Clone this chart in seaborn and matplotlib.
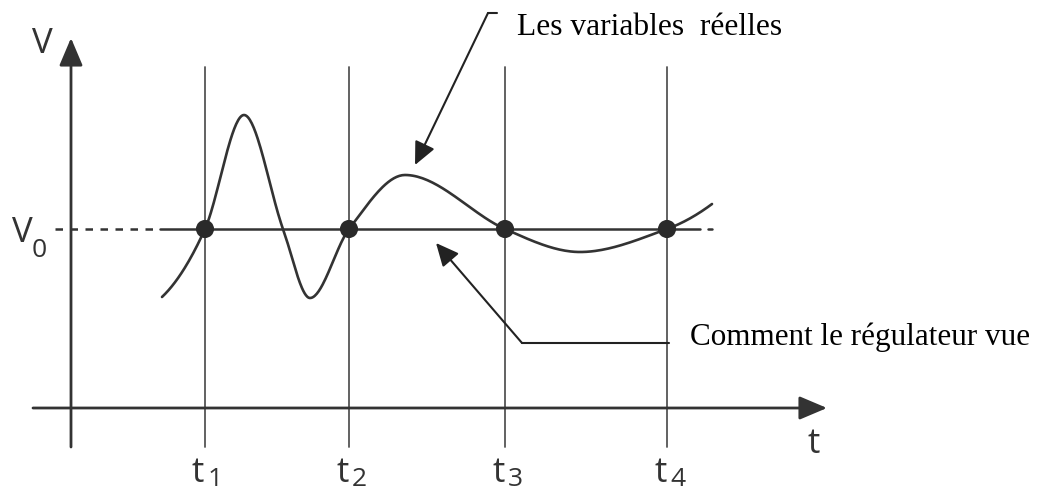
import numpy as np
import pandas as pd
import matplotlib
matplotlib.use("Agg")
import matplotlib.pyplot as plt
import seaborn as sns

# Data (units: t and V measured from the axis origin)
t_marks = [13.4, 27.8, 43.4, 59.6]
t_names = ["1", "2", "3", "4"]
v0 = 17.9
curve_t = [9.1, 13.4, 17.3, 21.2, 23.9, 27.8, 33.4, 43.4, 50.9, 59.6, 64.1]
curve_v = [11.1, 17.9, 29.3, 17.9, 11.0, 17.9, 23.3, 17.9, 15.6, 17.9, 20.4]

label_real = "Les variables  réelles"
label_reg = "Comment le régulateur vue"

# Smooth curve through the read points (Hermite, flat at extrema)
ct = np.array(curve_t)
cv = np.array(curve_v)
n = len(ct)
d = np.zeros(n)
for i in range(1, n - 1):
    if (cv[i] - cv[i - 1]) * (cv[i + 1] - cv[i]) < 0:
        d[i] = 0.0
    else:
        d[i] = (cv[i + 1] - cv[i - 1]) / (ct[i + 1] - ct[i - 1])
# parabolic end conditions
d[0] = 2 * (cv[1] - cv[0]) / (ct[1] - ct[0]) - d[1]
d[-1] = 2 * (cv[-1] - cv[-2]) / (ct[-1] - ct[-2]) - d[-2]
xs, ys = [], []
for i in range(n - 1):
    h = ct[i + 1] - ct[i]
    s = np.linspace(0, 1, 40, endpoint=(i == n - 2))
    h00 = 2 * s**3 - 3 * s**2 + 1
    h10 = s**3 - 2 * s**2 + s
    h01 = -2 * s**3 + 3 * s**2
    h11 = s**3 - s**2
    xs.append(ct[i] + s * h)
    ys.append(h00 * cv[i] + h10 * h * d[i] + h01 * cv[i + 1] + h11 * h * d[i + 1])
df = pd.DataFrame({"t": np.concatenate(xs), "v": np.concatenate(ys)})

sns.set_style("white")
plt.rcParams["font.family"] = ["Open Sans", "DejaVu Sans"]

axc = "#333333"
gridc = "#555555"

fig = plt.figure(figsize=(10.44, 4.93), dpi=100)
ax = fig.add_axes([0, 0, 1, 1])
ax.set_xlim(-7.1, 97.3)
ax.set_ylim(-8.5, 40.8)
ax.axis("off")

# axes with arrows
arrow_ax = dict(arrowstyle="-|>,head_length=1.7,head_width=0.72", mutation_scale=10,
                lw=2.0, color=axc, shrinkA=0, shrinkB=0)
ax.annotate("", xy=(0, 37.0), xytext=(0, -3.9), arrowprops=arrow_ax)
ax.annotate("", xy=(75.6, 0), xytext=(-3.8, 0), arrowprops=arrow_ax)

# vertical time lines
for tm in t_marks:
    ax.plot([tm, tm], [-3.9, 34.1], color=gridc, lw=1.3, zorder=1)

# V0 reference
ax.plot([-1.6, 8.9], [v0, v0], color=axc, lw=1.8, dashes=(3, 3), zorder=2)
ax.plot([8.9, 62.9], [v0, v0], color=axc, lw=1.8, zorder=2)
ax.plot([63.7, 64.1], [v0, v0], color=axc, lw=1.8, zorder=2)

# real variable curve
sns.lineplot(data=df, x="t", y="v", sort=False, estimator=None, color=axc, lw=1.9, ax=ax, zorder=3)
sns.scatterplot(x=t_marks, y=[v0] * len(t_marks), s=170, color="#2a2a2a", edgecolor="none",
                ax=ax, zorder=5)

# annotations
arrow_lead = dict(arrowstyle="-|>,head_length=1.4,head_width=0.65", mutation_scale=10,
                  lw=1.5, color="#222222", shrinkA=0, shrinkB=0)
ax.plot([42.6, 41.7], [39.5, 39.5], color="#222222", lw=1.5)
ax.annotate("", xy=(34.4, 24.3), xytext=(41.7, 39.5), arrowprops=arrow_lead)
ax.text(44.6, 37.3, label_real, family="Liberation Serif", fontsize=22.7,
        ha="left", va="baseline", color="black")

ax.plot([59.8, 45.1], [6.5, 6.5], color="#222222", lw=1.5)
ax.annotate("", xy=(36.5, 16.5), xytext=(45.1, 6.5), arrowprops=arrow_lead)
ax.text(61.9, 6.3, label_reg, family="Liberation Serif", fontsize=22.4,
        ha="left", va="baseline", color="black")

# axis labels
ax.text(-3.9, 35.5, "V", fontsize=25, ha="left", va="baseline", color=axc)
ax.text(-5.9, 16.6, "V", fontsize=25, ha="left", va="baseline", color=axc)
ax.text(-3.9, 15.1, "0", fontsize=19, ha="left", va="baseline", color=axc)
ax.text(73.6, -4.5, "t", fontsize=25, ha="left", va="baseline", color=axc)
for tm, nm in zip(t_marks, t_names):
    ax.text(tm - 1.3, -7.35, "t", fontsize=25, ha="left", va="baseline", color=axc)
    ax.text(tm + 0.3, -7.85, nm, fontsize=19, ha="left", va="baseline", color=axc)

fig.savefig("out.png", dpi=100)
